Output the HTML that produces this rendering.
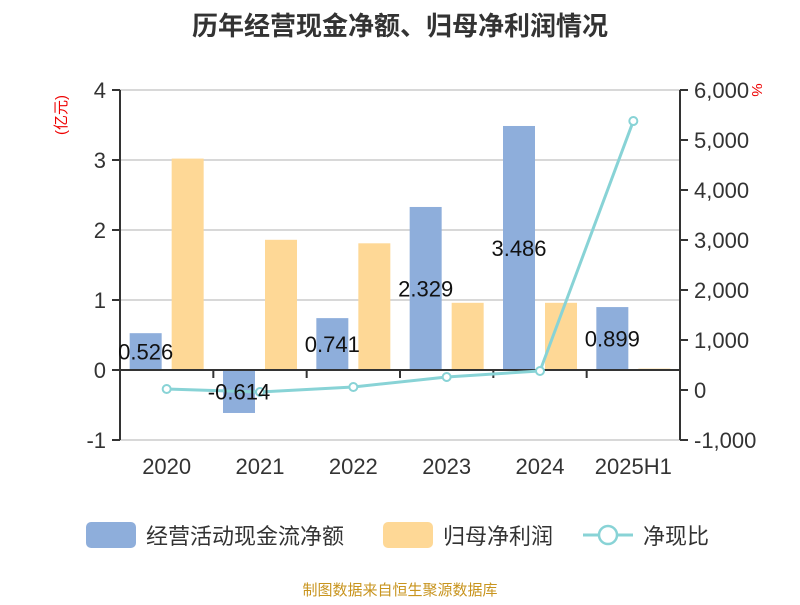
<!DOCTYPE html>
<html><head><meta charset="utf-8"><style>
body{margin:0;background:#fff;}
svg text{font-family:"Liberation Sans","Noto Sans CJK SC",sans-serif;}
</style></head><body>
<svg id="chart" width="800" height="600" xmlns="http://www.w3.org/2000/svg">
<text x="400" y="35" text-anchor="middle" font-size="26" font-weight="bold" fill="#333">历年经营现金净额、归母净利润情况</text>
<text transform="translate(66,115) rotate(-90)" text-anchor="middle" font-size="15" fill="#e00">(亿元)</text>
<text transform="translate(752,90) rotate(90)" text-anchor="middle" font-size="15" fill="#e00">%</text>
<g id="grid"></g><g id="bars"></g><g id="axes"></g><g id="line"></g><g id="labels"></g>
<g>
<rect x="86" y="522" width="50" height="26" rx="5" fill="#8eaedb"/>
<text x="146" y="544" font-size="22" fill="#333">经营活动现金流净额</text>
<rect x="383" y="522" width="50" height="26" rx="5" fill="#fed896"/>
<text x="443" y="544" font-size="22" fill="#333">归母净利润</text>
<line x1="583" y1="535" x2="633" y2="535" stroke="#88d3d6" stroke-width="3"/>
<circle cx="608" cy="535" r="9" fill="#fff" stroke="#88d3d6" stroke-width="2.5"/>
<text x="643" y="544" font-size="22" fill="#333">净现比</text>
</g>
<text x="400" y="595" text-anchor="middle" font-size="15" fill="#c8941e">制图数据来自恒生聚源数据库</text>
</svg>
<script>
const categories=["2020","2021","2022","2023","2024","2025H1"];
const cashFlow=[0.526,-0.614,0.741,2.329,3.486,0.899];
const netProfit=[3.02,1.86,1.81,0.96,0.96,0.02];
const ratio=[20,-40,60,260,380,5380];
const leftTicks=[-1,0,1,2,3,4];
const rightTicks=[-1000,0,1000,2000,3000,4000,5000,6000];
const NS="http://www.w3.org/2000/svg";
const X0=120,X1=680,YT=90,YB=440;
const yL=v=>YT+(4-v)*(YB-YT)/5;
const yR=v=>YT+(6000-v)*(YB-YT)/7000;
const bw=(X1-X0)/categories.length;
const xc=i=>X0+bw*(i+0.5);
function mk(p,tag,a){const e=document.createElementNS(NS,tag);for(const k in a)e.setAttribute(k,a[k]);document.getElementById(p).appendChild(e);return e;}
const fmt=v=>v.toLocaleString('en-US');
leftTicks.forEach(t=>{
 const l=mk('grid','line',{x1:X0,x2:X1,y1:yL(t),y2:yL(t),stroke:'#ccc','stroke-width':1.5});
 
 
 const tk=mk('axes','line',{x1:X0-8,x2:X0,y1:yL(t),y2:yL(t),stroke:'#333','stroke-width':2});
 
 
 const tx=mk('axes','text',{x:X0-14,y:yL(t)+8,'text-anchor':'end','font-size':22,fill:'#333'});
 tx.textContent=t;
 
 
});
rightTicks.forEach(t=>{
 const tk=mk('axes','line',{x1:X1,x2:X1+8,y1:yR(t),y2:yR(t),stroke:'#333','stroke-width':2});
 
 
 const tx=mk('axes','text',{x:X1+14,y:yR(t)+8,'font-size':22,fill:'#333'});
 tx.textContent=fmt(t);
 
 
});
let a=mk('axes','line',{x1:X0,x2:X0,y1:YT,y2:YB,stroke:'#333','stroke-width':2});

a=mk('axes','line',{x1:X1,x2:X1,y1:YT,y2:YB,stroke:'#333','stroke-width':2});

a=mk('axes','line',{x1:X0,x2:X1,y1:yL(0),y2:yL(0),stroke:'#333','stroke-width':2});

for(let i=0;i<=categories.length;i++){
 const tk=mk('axes','line',{x1:X0+bw*i,x2:X0+bw*i,y1:yL(0),y2:yL(0)+8,stroke:'#333','stroke-width':2});
 
 
}
categories.forEach((c,i)=>{
 const tx=mk('axes','text',{x:xc(i),y:474,'text-anchor':'middle','font-size':22,fill:'#333'});
 tx.textContent=c;
 
 
 const v=cashFlow[i];
 const b=mk('bars','rect',{x:xc(i)-37,width:32,y:Math.min(yL(v),yL(0)),height:Math.abs(yL(v)-yL(0)),fill:'#8eaedb'});
 
 
 const p=netProfit[i];
 const b2=mk('bars','rect',{x:xc(i)+5,width:32,y:Math.min(yL(p),yL(0)),height:Math.max(1.5,Math.abs(yL(p)-yL(0))),fill:'#fed896'});
 
 
 const lb=mk('labels','text',{x:xc(i)-21,y:(yL(v)+yL(0))/2+8,'text-anchor':'middle','font-size':22,fill:'#111'});
 lb.textContent=v;
 
 
});
const pl=mk('line','polyline',{points:ratio.map((v,i)=>xc(i)+','+yR(v)).join(' '),fill:'none',stroke:'#88d3d6','stroke-width':3});


ratio.forEach((v,i)=>{
 const c=mk('line','circle',{cx:xc(i),cy:yR(v),r:4,fill:'#fff',stroke:'#88d3d6','stroke-width':2});
 
 
});
</script>
</body></html>
